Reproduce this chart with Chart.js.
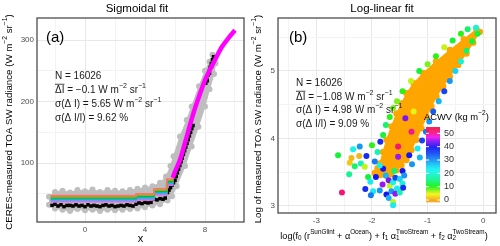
<!DOCTYPE html>
<html>
<head>
<meta charset="utf-8">
<script src="https://cdn.jsdelivr.net/npm/chart.js@4.4.1/dist/chart.umd.min.js"></script>
<style>
  body { margin: 0; background: #fff; }
  #wrap { position: relative; width: 500px; height: 246px; }
  canvas { position: absolute; top: 0; }
</style>
</head>
<body>
<div id="wrap">
  <canvas id="left" width="250" height="246" style="left:0"></canvas>
  <canvas id="right" width="250" height="246" style="left:250px"></canvas>
</div>
<script>
// ---- panel (a): sigmoidal fit ----
// grey cloud of measured points, outline: upper edge left->right, then lower edge back
const greyX = [-2.4, -2.0, -1.5, -1.0, -0.5, 0, 0.5, 1, 1.5, 2, 2.5, 3, 3.5, 4, 4.5, 5.0, 5.4, 5.7, 5.9, 6.33, 6.78, 7.11, 7.6, 8.0, 8.3, 8.5,
               8.7, 8.6, 8.3, 8.0, 7.56, 7.11, 6.67, 6.11, 5.8, 5.5, 5.0, 4.5, 4.0, 3.5, 3.0, 2.5, 2.0, 1.5, 1.0, 0.5, 0, -0.5, -1.0, -1.5, -2.0, -2.4];
const greyY = [45, 53, 55, 52, 56, 54, 57, 53, 56, 55, 54, 56, 58, 60, 62, 68, 78, 95, 111, 143, 170, 192, 225, 250, 265, 276,
               262, 245, 220, 192, 159, 127, 95, 62, 46, 39, 33, 31, 28, 26, 25, 24, 23, 24, 22, 24, 23, 25, 22, 24, 26, 32];
// black points
const blackX = [-2.2, -2.0, -1.8, -1.6, -1.4, -1.2, -1.0, -0.8, -0.6, -0.4, -0.2, 0, 0.2, 0.4, 0.6, 0.8, 1.0, 1.2, 1.4, 1.6, 1.8, 2.0,
                2.2, 2.4, 2.6, 2.8, 3.0, 3.2, 3.4, 3.6, 3.8, 4.0, 4.2, 4.4, 4.6, 4.8, 5.0, 5.2, 5.35,
                5.5, 5.6, 5.7, 5.8, 5.9, 6.0, 6.08, 6.16, 6.24, 6.32, 6.4, 6.48, 6.56, 6.64, 6.72, 6.8, 6.88, 6.96, 7.04, 7.12, 7.2,
                8.05, 8.12, 8.2, 8.27, 8.35, 8.42, 8.5, 8.57, 8.15, 8.3, 8.45];
const blackY = [31, 33, 30, 32, 29, 31, 31, 30, 32, 30, 31, 29, 32, 30, 31, 30, 29, 31, 32, 30, 31, 29,
                30, 31, 30, 32, 31, 30, 33, 35, 34, 36, 35, 36, 41, 40, 42, 41, 43,
                52, 56, 60, 64, 68, 72, 78, 84, 90, 96, 102, 108, 114, 120, 126, 132, 138, 144, 150, 156, 161,
                230, 236, 243, 249, 256, 262, 268, 273, 234, 246, 258];
// stepped group lines
const stepX = [-2.3, 3.4, 4.6, 5.45, 5.85];
const stepRed = [47, 50, 58, 74, 80];
const stepOlive = [45, 48, 56, 72, 78];
const stepGreen = [43, 46, 54, 70, 76];
const stepCyan = [41, 44, 52, 68, 74];
const stepBlue = [39, 42, 50, 66, 72];
const stepPink = [37, 40, 48, 64, 70];
// magenta sigmoidal fit
const fitX = [5.85, 6.0, 6.33, 6.67, 7.0, 7.33, 7.67, 8.0, 8.33, 8.67, 9.1, 9.55, 10.0];
const fitY = [76, 86, 105, 133, 162, 189, 213, 235, 252, 268, 288, 303, 316];

// ---- panel (b): log-linear fit ----
// dense orange core (ACWV ~ 0), outline
const bandX = [-1.95, -1.90, -1.86, -1.80, -1.74, -1.65, -1.56, -1.47, -1.38, -1.25, -1.08, -0.85, -0.60, -0.35, -0.12,
               -0.06, -0.18, -0.30, -0.45, -0.60, -0.72, -0.84, -0.93, -1.02, -1.11, -1.20, -1.29, -1.38, -1.47, -1.56, -1.66, -1.75, -1.85];
const bandY = [3.49, 3.56, 3.63, 3.80, 3.98, 4.18, 4.37, 4.52, 4.67, 4.82, 4.97, 5.14, 5.31, 5.47, 5.62,
               5.58, 5.42, 5.26, 5.09, 4.92, 4.77, 4.62, 4.47, 4.32, 4.15, 3.98, 3.83, 3.68, 3.60, 3.53, 3.47, 3.45, 3.46];
// scattered points coloured by ACWV
const ptX = [-2.61, -2.37, -2.40, -2.41, -2.54, -2.31, -2.20, -2.23, -2.10, -2.34, -2.22, -2.13, -2.07, -2.03, -2.12, -1.98, -2.02,
             -1.86, -1.74, -1.62, -1.62, -1.81, -1.93, -1.45, -1.55, -1.68, -1.53, -1.75, -1.70, -1.62, -1.58, -1.50, -1.45, -1.42,
             -1.65, -1.58, -1.50, -1.44, -1.70, -1.60, -1.80, -1.86, -1.95, -1.90, -2.00, -1.85, -1.80, -1.75, -1.68, -1.62,
             -1.29, -1.53, -1.33, -1.28, -1.18, -1.14, -1.10, -1.03, -0.97, -0.90, -0.80, -0.70, -0.60, -0.50, -0.40, -0.30,
             -0.20, -0.10, -0.13, -1.55, -1.45, -1.30, -1.15, -1.00, -0.85, -0.70, -0.55, -0.40, -0.28, -1.40, -1.25];
const ptY = [3.75, 3.71, 3.64, 3.47, 3.20, 3.59, 3.63, 3.74, 3.74, 3.84, 3.88, 3.58, 3.43, 3.36, 3.25, 3.22, 3.16,
             3.23, 3.17, 3.06, 3.01, 3.32, 3.43, 3.52, 3.26, 3.30, 3.73, 3.45, 3.38, 3.35, 3.42, 3.40, 3.33, 3.45,
             3.22, 3.18, 3.20, 3.27, 3.12, 3.52, 3.55, 3.60, 3.66, 3.80, 3.90, 3.95, 4.05, 4.20, 4.32, 4.45,
             4.10, 3.88, 3.75, 3.62, 3.85, 3.72, 3.97, 4.10, 4.25, 4.40, 4.55, 4.70, 4.85, 5.00, 5.14, 5.30,
             5.44, 5.55, 5.64, 4.55, 4.70, 4.85, 5.00, 5.10, 5.22, 5.35, 5.45, 5.55, 5.62, 4.30, 4.40];
const ptW = [12, 1, 2, 16, 52, 14, 18, 1, 38, 22, 30, 6, 12, 24, 38, 24, 32,
             30, 40, 6, 24, 45, 40, 40, 24, 6, 45, 28, 44, 22, 36, 26, 20, 30,
             30, 45, 18, 38, 28, 14, 40, 22, 32, 18, 10, 38, 12, 14, 10, 8,
             50, 52, 40, 30, 24, 28, 36, 32, 30, 34, 28, 36, 30, 26, 20, 14,
             12, 12, 20, 8, 10, 6, 12, 8, 10, 6, 12, 10, 14, 44, 5];
const cbTicks = [0, 10, 20, 30, 40, 50];

const FONT = '"Liberation Sans", Arial, sans-serif';
Chart.defaults.font.family = FONT;

const zip = (xs, ys) => xs.map((x, i) => ({ x: x, y: ys[i] }));

// ACWV -> colour (orange, green, cyan, blue, purple, red)
const hueStops = [[0, 39], [5, 62], [10, 115], [15, 150], [20, 172], [25, 185], [30, 205], [35, 225], [40, 240], [45, 275], [50, 325], [55, 350]];
function acwvColor(v) {
  let h = hueStops[hueStops.length - 1][1];
  if (v <= hueStops[0][0]) h = hueStops[0][1];
  for (let i = 0; i < hueStops.length - 1; i++) {
    const a = hueStops[i], b = hueStops[i + 1];
    if (v >= a[0] && v <= b[0]) { h = a[1] + (b[1] - a[1]) * (v - a[0]) / (b[0] - a[0]); break; }
  }
  return 'hsl(' + h + ', 90%, 52%)';
}

// text with super/subscripts, segs = [text, kind, extra]
function segWidth(ctx, s, size) {
  const k = s[1] || 'n';
  if (k === 'sup' || k === 'sub') { ctx.font = (size * 0.7) + 'px ' + FONT; return ctx.measureText(s[0]).width; }
  if (k === 'subsup') { ctx.font = (size * 0.7) + 'px ' + FONT; return Math.max(ctx.measureText(s[0]).width, ctx.measureText(s[2]).width); }
  ctx.font = size + 'px ' + FONT; return ctx.measureText(s[0]).width;
}
function drawRich(ctx, segs, x, y, size, align) {
  let w = 0;
  segs.forEach(s => { w += segWidth(ctx, s, size); });
  let cx = align === 'center' ? x - w / 2 : x;
  ctx.textAlign = 'left';
  ctx.textBaseline = 'middle';
  segs.forEach(s => {
    const k = s[1] || 'n';
    const sw = segWidth(ctx, s, size);
    if (k === 'sup') ctx.fillText(s[0], cx, y - size * 0.4);
    else if (k === 'sub') ctx.fillText(s[0], cx, y + size * 0.3);
    else if (k === 'subsup') { ctx.fillText(s[0], cx, y + size * 0.3); ctx.fillText(s[2], cx, y - size * 0.45); }
    else {
      ctx.fillText(s[0], cx, y);
      if (k === 'ol') {
        ctx.fillRect(cx, y - size * 0.62, sw, 0.8);
      }
    }
    cx += sw;
  });
}

const unitSegs = [[' W m'], ['−2', 'sup'], [' sr'], ['−1', 'sup']];

function drawFrame(ctx, a) {
  ctx.strokeStyle = '#4d4d4d';
  ctx.lineWidth = 1.3;
  ctx.strokeRect(a.left, a.top, a.right - a.left, a.bottom - a.top);
}

function gridColor(c, major) {
  const v = c.tick ? c.tick.value : 0;
  return Math.abs(v / major - Math.round(v / major)) < 1e-6 ? '#e8e8e8' : '#f3f3f3';
}

const leftDeco = {
  id: 'leftDeco',
  afterDraw(chart) {
    const ctx = chart.ctx, a = chart.chartArea;
    ctx.save();
    drawFrame(ctx, a);
    ctx.fillStyle = '#000';
    ctx.textAlign = 'center';
    ctx.textBaseline = 'middle';
    ctx.font = '11.5px ' + FONT;
    ctx.fillText('Sigmoidal fit', 137, 9);
    ctx.font = '11px ' + FONT;
    ctx.fillText('x', (a.left + a.right) / 2, 239);
    ctx.font = '15px ' + FONT;
    ctx.textAlign = 'left';
    ctx.fillText('(a)', 46, 38);
    ctx.fillStyle = '#1a1a1a';
    drawRich(ctx, [['N = 16026']], 55, 76, 10);
    drawRich(ctx, [['ΔI', 'ol'], [' = −0.1']].concat(unitSegs), 55, 90, 10);
    drawRich(ctx, [['σ(Δ I) = 5.65']].concat(unitSegs), 55, 104, 10);
    drawRich(ctx, [['σ(Δ I/I) = 9.62 %']], 55, 118, 10);
    ctx.translate(9, 122);
    ctx.rotate(-Math.PI / 2);
    ctx.fillStyle = '#000';
    drawRich(ctx, [['CERES-measured TOA SW radiance (W m'], ['−2', 'sup'], [' sr'], ['−1', 'sup'], [')']], 0, 0, 9.7, 'center');
    ctx.restore();
  }
};

const rightDeco = {
  id: 'rightDeco',
  afterDraw(chart) {
    const ctx = chart.ctx, a = chart.chartArea;
    ctx.save();
    drawFrame(ctx, a);
    ctx.fillStyle = '#000';
    ctx.textAlign = 'center';
    ctx.textBaseline = 'middle';
    ctx.font = '11.5px ' + FONT;
    ctx.fillText('Log-linear fit', 132, 9);
    ctx.font = '15px ' + FONT;
    ctx.textAlign = 'left';
    ctx.fillText('(b)', 39, 38);
    ctx.fillStyle = '#1a1a1a';
    drawRich(ctx, [['N = 16026']], 46, 83, 10);
    drawRich(ctx, [['ΔI', 'ol'], [' = −1.08']].concat(unitSegs), 46, 97, 10);
    drawRich(ctx, [['σ(Δ I) = 4.98']].concat(unitSegs), 46, 110, 10);
    drawRich(ctx, [['σ(Δ I/I) = 9.09 %']], 46, 124, 10);
    ctx.fillStyle = '#000';
    drawRich(ctx, [['log(f'], ['0', 'sub'], [' (r'], ['SunGlint', 'sup'], [' + α'], ['Ocean', 'sup'], [') + f'], ['1', 'sub'], [' α'],
                   ['1', 'subsup', 'TwoStream'], [' + f'], ['2', 'sub'], [' α'], ['2', 'subsup', 'TwoStream'], [')']], 134, 236, 9.1, 'center');
    // colour bar legend
    drawRich(ctx, [['ACWV (kg m'], ['−2', 'sup'], [')']], 174, 117, 9.4);
    const bx = 176, bw = 14, vTop = 54.7, vBot = -1.5;
    const pyOf = v => 200 - 1.333 * v;
    for (let py = pyOf(vTop); py < pyOf(vBot); py += 1) {
      const v = (200 - py) / 1.333;
      ctx.fillStyle = acwvColor(v);
      ctx.fillRect(bx, py, bw, 1.2);
    }
    ctx.font = '9px ' + FONT;
    ctx.textBaseline = 'middle';
    cbTicks.forEach(t => {
      const py = pyOf(t);
      ctx.fillStyle = '#fff';
      ctx.fillRect(bx, py - 0.5, 3, 1);
      ctx.fillRect(bx + bw - 3, py - 0.5, 3, 1);
      ctx.fillStyle = '#333';
      ctx.fillText(String(t), bx + bw + 4, py);
    });
    ctx.translate(8, 119);
    ctx.rotate(-Math.PI / 2);
    ctx.fillStyle = '#000';
    drawRich(ctx, [['Log of measured TOA SW radiance (W m'], ['−2', 'sup'], [' sr'], ['−1', 'sup'], [')']], 0, 0, 9.7, 'center');
    ctx.restore();
  }
};

function axis(min, max, step, major, fit) {
  return {
    type: 'linear', min: min, max: max,
    afterFit: fit,
    border: { display: false },
    grid: { color: c => gridColor(c, major), drawTicks: false, lineWidth: 1 },
    ticks: {
      stepSize: step, includeBounds: false, autoSkip: false, maxRotation: 0,
      color: '#4d4d4d', font: { size: 8 },
      callback: v => (Math.abs(v / major - Math.round(v / major)) < 1e-6 ? String(Math.round(v * 100) / 100) : '')
    }
  };
}

const baseOpts = {
  responsive: false,
  animation: false,
  events: [],
  plugins: { legend: { display: false }, tooltip: { enabled: false } }
};

const stepSets = [stepRed, stepOlive, stepGreen, stepCyan, stepBlue, stepPink];
const stepCols = ['#F8766D', '#B79F00', '#00BA38', '#00BFC4', '#619CFF', '#F564E3'];

new Chart(document.getElementById('left'), {
  type: 'scatter',
  data: {
    datasets: [
      { data: zip(greyX, greyY), showLine: true, fill: 'shape', backgroundColor: '#bebebe', borderColor: '#bebebe',
        borderWidth: 1, pointRadius: 3, pointBorderWidth: 0, pointBackgroundColor: '#bebebe', order: 10 },
      { data: zip(blackX, blackY), pointStyle: 'rect', pointRadius: 2.5, pointBorderWidth: 0, pointBackgroundColor: '#000', order: 9 }
    ].concat(stepSets.map((ys, i) => ({
      data: zip(stepX, ys), showLine: true, stepped: true, borderColor: stepCols[i], borderWidth: 1.6,
      pointRadius: 0, fill: false, order: 5
    }))).concat([
      { data: zip(fitX, fitY), showLine: true, tension: 0.3, borderColor: '#FF00FF', borderWidth: 4.5,
        pointRadius: 0, fill: false, order: 1 }
    ])
  },
  options: Object.assign({}, baseOpts, {
    layout: { padding: { left: 0, right: 6, top: 18, bottom: 0 } },
    scales: {
      x: axis(-3.2, 10.6, 2, 4, s => { s.height = 24; }),
      y: axis(4, 336, 50, 100, s => { s.width = 37; })
    }
  }),
  plugins: [leftDeco]
});

new Chart(document.getElementById('right'), {
  type: 'scatter',
  data: {
    datasets: [
      { data: zip(bandX, bandY), showLine: true, fill: 'shape', backgroundColor: '#FFA500', borderColor: '#FFA500',
        borderWidth: 1, pointRadius: 3.2, pointBorderWidth: 0, pointBackgroundColor: '#FFA500', order: 5 },
      { data: zip(ptX, ptY), pointRadius: 3, pointBorderWidth: 0,
        pointBackgroundColor: ptW.map(acwvColor), order: 1 }
    ]
  },
  options: Object.assign({}, baseOpts, {
    layout: { padding: { left: 0, right: 4, top: 18, bottom: 0 } },
    scales: {
      x: axis(-3.69, 0.23, 0.5, 1, s => { s.height = 33; }),
      y: axis(2.896, 5.785, 0.5, 1, s => { s.width = 28; })
    }
  }),
  plugins: [rightDeco]
});
</script>
</body>
</html>
